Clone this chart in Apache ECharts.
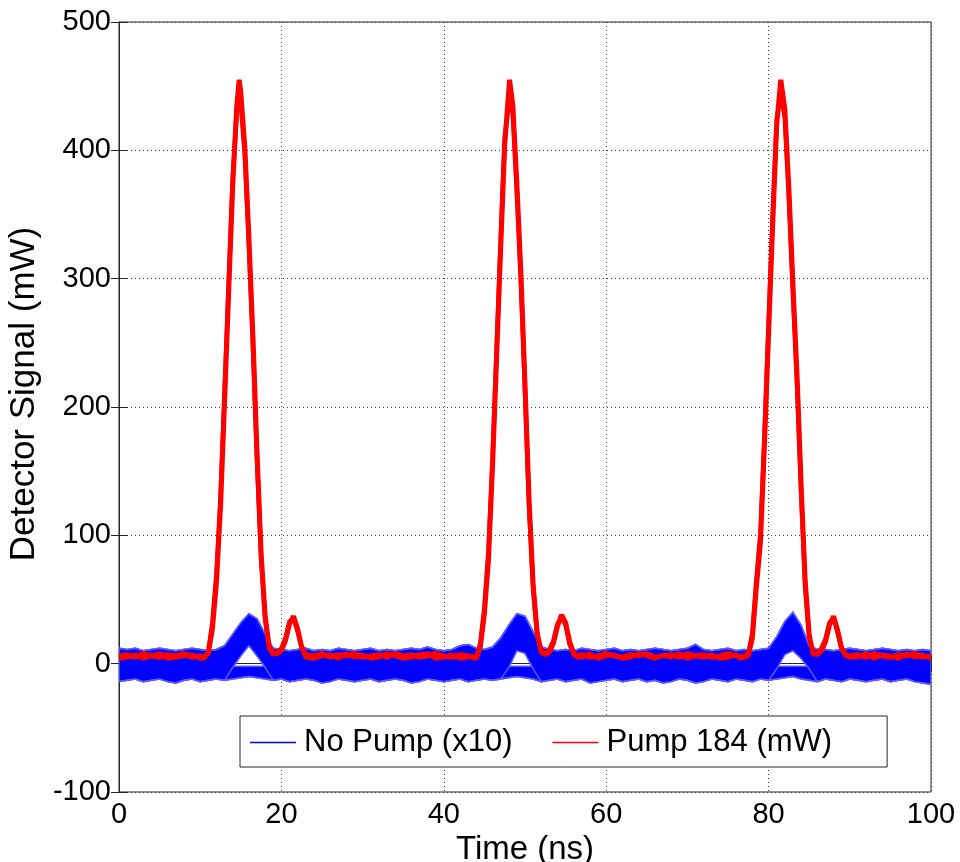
<!DOCTYPE html>
<html>
<head>
<meta charset="utf-8">
<script src="https://cdn.jsdelivr.net/npm/echarts@6/dist/echarts.min.js"></script>
<style>
html,body{margin:0;padding:0;background:#fff;}
#chart{width:960px;height:862px;}
</style>
</head>
<body>
<div id="chart"></div>
<script>
// ---------- data ----------
const xTicks = [0, 20, 40, 60, 80, 100];
const yTicks = [-100, 0, 100, 200, 300, 400, 500];

// No Pump (x10): envelope of the many overlapping blue traces, 1 ns sampling
const blueTimeNs = [0,1,2,3,4,5,6,7,8,9,10,11,12,13,14,15,16,17,18,19,20,21,22,23,24,25,26,27,28,29,30,31,32,33,34,35,36,37,38,39,40,41,42,43,44,45,46,47,48,49,50,51,52,53,54,55,56,57,58,59,60,61,62,63,64,65,66,67,68,69,70,71,72,73,74,75,76,77,78,79,80,81,82,83,84,85,86,87,88,89,90,91,92,93,94,95,96,97,98,99,100];
const blueUpper = [12,11,12,10,11,12,11,10,11,12,11,
  10,11,14,23,32,39,35,23,12,11,
  10,11,12,10,11,10,12,11,10,11,
  12,10,11,10,11,12,11,13,11,10,
  11,14,15,12,11,13,20,30,39,37,
  25,13,11,10,11,10,12,11,10,11,
  12,10,11,10,11,12,11,10,11,12,
  15,11,10,11,12,10,11,10,11,12,
  21,33,40,30,14,11,11,10,11,12,
  11,10,11,12,11,10,11,10,11,10];
const blueLower = [-14,-13,-12,-14,-13,-12,-14,-15,-13,-12,-14,
  -13,-12,-13,-12,-11,-10,-11,-12,-13,-12,
  -14,-13,-12,-13,-15,-14,-12,-13,-14,-13,
  -12,-14,-13,-12,-13,-15,-14,-12,-13,-14,
  -13,-12,-14,-13,-12,-13,-12,-11,-10,-11,
  -12,-14,-13,-12,-14,-13,-12,-15,-14,-13,
  -12,-14,-13,-12,-14,-13,-15,-14,-12,-13,
  -15,-14,-12,-13,-14,-12,-13,-14,-12,-13,
  -12,-11,-10,-12,-13,-14,-12,-13,-14,-12,
  -13,-14,-13,-12,-14,-13,-12,-14,-15,-16];
// empty gap under each blue bump (top of the lower part / bottom of the lifted part)
const notchTimeNs = [14,15,16,17,18, 48,49,50,51, 81,82,83,84,85];
const notchFloor  = [-2,-2,-2,-2,-2, -2,-2,-2,-2, -2,-2,-2,-2,-2];
const notchCeil   = [-3,6,14,6,-3, -3,10,8,-4, -4,7,10,4,-4];

// Pump 184 (mW): two overlapping red traces
const redTimeNs = [0,1,2,3,4,5,6,7,8,9,10,
  10.5,11,11.5,12,12.5,13,13.5,14,14.5,14.8,15,15.5,16,16.5,17,17.5,18,18.5,19,19.5,20,20.5,21,21.5,22,22.5,23,
  24,25,26,27,28,29,30,31,32,33,34,35,36,37,38,39,40,41,42,43,
  43.5,44,44.5,45,45.5,46,46.5,47,47.5,48.1,48.5,49,49.5,50,50.5,51,51.5,52,52.5,53,53.5,54,54.5,55,55.5,56,56.5,
  57,58,59,60,61,62,63,64,65,66,67,68,69,70,71,72,73,74,75,76,
  76.5,77,77.5,78,78.5,79,79.5,80,80.5,81,81.5,82,82.5,83,83.5,84,84.5,85,85.5,86,86.5,87,87.5,88,88.5,89,89.5,90,
  91,92,93,94,95,96,97,98,99,100];
const redTraceA = [6,7,5,8,6,5,7,6,8,5,6,
  5,8,27,63,122,204,289,372,434,455,445,402,332,254,164,86,37,13,8,8,10,18,31,37,27,13,7,
  6,8,5,7,6,8,5,6,7,5,8,6,7,5,6,8,6,5,7,6,
  5,4,13,39,81,154,238,323,404,455,435,374,304,218,128,62,24,9,7,9,16,29,38,32,17,8,6,
  7,5,6,8,6,5,7,6,8,5,6,7,5,8,6,7,5,6,8,6,
  6,5,6,20,60,95,172,258,342,420,455,432,370,295,225,140,65,22,8,7,10,17,30,37,26,12,7,6,
  7,5,8,6,5,7,6,8,5,6];
const redTraceB = [4,5,7,4,6,8,4,5,6,7,4,
  4,10,32,70,130,212,296,378,430,440,436,396,325,246,158,82,34,12,7,9,12,20,33,35,25,12,5,
  4,6,7,4,8,5,7,4,5,8,6,4,5,7,8,4,5,7,4,5,
  6,5,16,44,88,160,245,330,410,442,428,366,296,212,122,58,22,10,8,11,18,31,36,30,15,7,5,
  5,8,4,6,7,4,5,8,6,4,7,5,8,4,6,5,7,4,5,7,
  4,6,8,24,66,102,180,266,350,424,445,425,362,288,218,134,60,20,7,8,12,19,32,36,24,11,6,5,
  5,8,4,7,6,4,8,5,7,4];

const seriesNames = ['No Pump (x10)', 'Pump 184 (mW)'];

// ---------- build options ----------
const BLUE = '#0000ff', BLUE_EDGE = '#5a5aff', RED = '#ff0000';
function zip(xs, ys) { return xs.map((x, i) => [x, ys[i]]); }
const lowTop = blueTimeNs.map((t, i) => { const j = notchTimeNs.indexOf(t); return j >= 0 ? notchFloor[j] : blueUpper[i]; });
const liftBottom = blueTimeNs.map((t, i) => { const j = notchTimeNs.indexOf(t); return j >= 0 ? notchCeil[j] : blueLower[i]; });

function bandPolygon(api, lo, hi) {
  const pts = [];
  for (let i = 0; i < blueTimeNs.length; i++) pts.push(api.coord([blueTimeNs[i], lo[i]]));
  for (let i = blueTimeNs.length - 1; i >= 0; i--) pts.push(api.coord([blueTimeNs[i], hi[i]]));
  return pts;
}
function edgeLine(api, ys) {
  return blueTimeNs.map((t, i) => api.coord([t, ys[i]]));
}

const FONT = 'Liberation Sans, Arial, Helvetica, sans-serif';
const axisCommonX = { type: 'value', min: xTicks[0], max: xTicks[xTicks.length - 1], interval: 20 };
const axisCommonY = { type: 'value', min: yTicks[0], max: yTicks[yTicks.length - 1], interval: 100 };
const AX = '#262626';

const chart = echarts.init(document.getElementById('chart'), null, { renderer: 'canvas' });
chart.setOption({
  animation: false,
  backgroundColor: '#ffffff',
  textStyle: { fontFamily: FONT },
  grid: { left: 119, right: 29, top: 22, bottom: 70, containLabel: false, outerBoundsMode: 'none',
          show: true, borderColor: AX, borderWidth: 1, backgroundColor: '#fff' },
  legend: {
    data: [
      { name: seriesNames[0], itemStyle: { color: BLUE } },
      { name: seriesNames[1], itemStyle: { color: RED } }
    ],
    left: 240, top: 716,
    icon: 'rect', itemWidth: 46, itemHeight: 1.5, itemGap: 40,
    padding: [11, 55, 9, 10],
    borderColor: AX, borderWidth: 1, borderRadius: 0,
    backgroundColor: '#fff',
    selectedMode: false,
    textStyle: { fontSize: 31, color: '#000', fontFamily: FONT, padding: [0, 0, 0, 3] }
  },
  xAxis: [
    Object.assign({}, axisCommonX, {
      position: 'bottom',
      name: 'Time (ns)', nameLocation: 'middle', nameGap: 34,
      nameTextStyle: { fontSize: 33, color: '#000', fontFamily: FONT },
      axisLine: { show: true, lineStyle: { color: AX, width: 1 } },
      axisTick: { show: true, inside: true, length: 8, lineStyle: { color: AX } },
      axisLabel: { fontSize: 29, color: '#000', margin: 8, fontFamily: FONT },
      splitLine: { show: true, lineStyle: { color: '#404040', type: [1, 3], width: 1 } }
    }),
    Object.assign({}, axisCommonX, {
      position: 'top',
      axisLine: { show: true, lineStyle: { color: AX, width: 1 } },
      axisTick: { show: true, inside: true, length: 8, lineStyle: { color: AX } },
      axisLabel: { show: false }, splitLine: { show: false }
    })
  ],
  yAxis: [
    Object.assign({}, axisCommonY, {
      position: 'left',
      name: 'Detector Signal (mW)', nameLocation: 'middle', nameGap: 73, nameRotate: 90,
      nameTextStyle: { fontSize: 35, color: '#000', fontFamily: FONT, padding: [0, 0, 0, 26] },
      axisLine: { show: true, lineStyle: { color: AX, width: 1 } },
      axisTick: { show: true, inside: true, length: 8, lineStyle: { color: AX } },
      axisLabel: { fontSize: 29, color: '#000', margin: 8, fontFamily: FONT },
      splitLine: { show: true, lineStyle: { color: '#404040', type: [1, 3], width: 1 } }
    }),
    Object.assign({}, axisCommonY, {
      position: 'right',
      axisLine: { show: true, lineStyle: { color: AX, width: 1 } },
      axisTick: { show: true, inside: true, length: 8, lineStyle: { color: AX } },
      axisLabel: { show: false }, splitLine: { show: false }
    })
  ],
  series: [
    {
      type: 'custom', name: seriesNames[0], coordinateSystem: 'cartesian2d', clip: true, z: 2,
      itemStyle: { color: BLUE },
      data: [[blueTimeNs[0], blueLower[0]]],
      encode: { x: 0, y: 1 },
      renderItem: function (params, api) {
        return {
          type: 'group',
          children: [
            { type: 'polygon', shape: { points: bandPolygon(api, blueLower, lowTop) }, style: { fill: BLUE, stroke: BLUE_EDGE, lineWidth: 1.5 } },
            { type: 'polygon', shape: { points: bandPolygon(api, liftBottom, blueUpper) }, style: { fill: BLUE, stroke: BLUE_EDGE, lineWidth: 1.5 } },
            { type: 'polyline', shape: { points: edgeLine(api, blueUpper) }, style: { fill: null, stroke: BLUE_EDGE, lineWidth: 1.5 } },
            { type: 'polyline', shape: { points: edgeLine(api, blueLower) }, style: { fill: null, stroke: BLUE_EDGE, lineWidth: 1.5 } }
          ]
        };
      }
    },
    { type: 'line', name: seriesNames[1], symbol: 'none', z: 3,
      itemStyle: { color: RED }, lineStyle: { color: RED, width: 4.5 },
      data: zip(redTimeNs, redTraceB) },
    { type: 'line', name: seriesNames[1], symbol: 'none', z: 3,
      itemStyle: { color: RED }, lineStyle: { color: RED, width: 5 },
      data: zip(redTimeNs, redTraceA) }
  ]
});
</script>
</body>
</html>
